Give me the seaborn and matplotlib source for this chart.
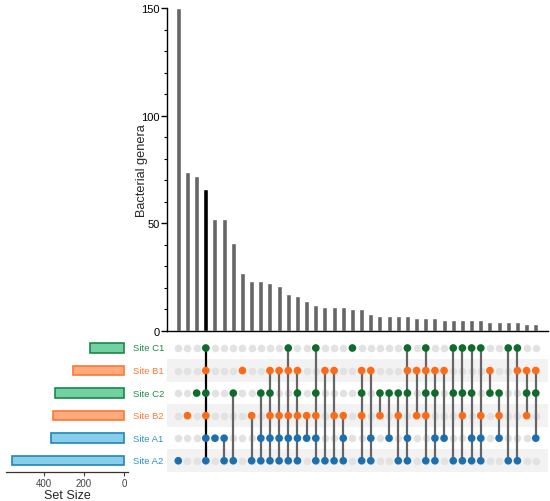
import numpy as np
import pandas as pd
import matplotlib
matplotlib.use("Agg")
import matplotlib.pyplot as plt
import seaborn as sns

# ---------------- data ----------------
set_names = ["Site C1", "Site B1", "Site C2", "Site B2", "Site A1", "Site A2"]
set_sizes = [170, 254, 345, 355, 367, 560]

intersection_counts = [150, 74, 72, 66, 52, 52, 41, 27, 23, 23,
                       22, 21, 17, 16, 14, 12, 11, 11, 11, 10,
                       10, 8, 7, 7, 7, 7, 6, 6, 6, 5,
                       5, 5, 5, 5, 4, 4, 4, 4, 3, 3]

intersection_members = [
    ["Site A2"],
    ["Site B2"],
    ["Site C2"],
    ["Site C1", "Site B1", "Site C2", "Site B2", "Site A1", "Site A2"],
    ["Site A1"],
    ["Site A1", "Site A2"],
    ["Site C2", "Site A2"],
    ["Site B1"],
    ["Site B2", "Site A2"],
    ["Site C2", "Site A1", "Site A2"],
    ["Site B1", "Site C2", "Site B2", "Site A1", "Site A2"],
    ["Site B1", "Site B2", "Site A1", "Site A2"],
    ["Site C1", "Site B1", "Site B2", "Site A1", "Site A2"],
    ["Site B1", "Site C2", "Site B2", "Site A1", "Site A2"],
    ["Site B2", "Site A1"],
    ["Site C1", "Site C2", "Site B2", "Site A1", "Site A2"],
    ["Site B1", "Site A2"],
    ["Site B1", "Site B2", "Site A2"],
    ["Site B2", "Site A1", "Site A2"],
    ["Site C1"],
    ["Site B1", "Site C2", "Site B2", "Site A2"],
    ["Site B1", "Site A1", "Site A2"],
    ["Site C2", "Site B2"],
    ["Site C2", "Site A1"],
    ["Site C2", "Site B2", "Site A2"],
    ["Site C1", "Site B1", "Site C2", "Site A1", "Site A2"],
    ["Site B1", "Site B2"],
    ["Site C1", "Site B1", "Site C2", "Site B2", "Site A2"],
    ["Site B1", "Site C2", "Site A1", "Site A2"],
    ["Site B1", "Site A1"],
    ["Site C1", "Site C2", "Site A2"],
    ["Site C1", "Site C2", "Site B2", "Site A2"],
    ["Site C1", "Site C2", "Site A1", "Site A2"],
    ["Site C1", "Site B2", "Site A1", "Site A2"],
    ["Site B1", "Site C2"],
    ["Site C2", "Site B2", "Site A1"],
    ["Site C1", "Site A2"],
    ["Site C1", "Site B1", "Site A2"],
    ["Site B1", "Site C2", "Site B2"],
    ["Site B1", "Site C2", "Site A1"],
]
highlight_index = 3

# ---------------- styles ----------------
dot_colors = {"Site C1": "#0f6b2c", "Site C2": "#0f6b2c",
              "Site B1": "#ff6a14", "Site B2": "#ff6a14",
              "Site A1": "#1b6fae", "Site A2": "#1b6fae"}
face_colors = {"Site C1": "#72d1a2", "Site C2": "#72d1a2",
               "Site B1": "#ffab7c", "Site B2": "#ffab7c",
               "Site A1": "#88cde9", "Site A2": "#88cde9"}
edge_colors = {"Site C1": "#1a8747", "Site C2": "#1a8747",
               "Site B1": "#ff7433", "Site B2": "#ff7433",
               "Site A1": "#1d88b6", "Site A2": "#1d88b6"}
label_colors = {"Site C1": "#1b8e4a", "Site C2": "#1b8e4a",
                "Site B1": "#ff7733", "Site B2": "#ff7733",
                "Site A1": "#2a92c2", "Site A2": "#2a92c2"}

sns.set_style("ticks")
plt.rcParams["font.family"] = ["Liberation Sans", "DejaVu Sans"]

W, H = 550, 502
fig = plt.figure(figsize=(W / 100, H / 100), dpi=100)

def frac(x0, y0, x1, y1):
    return [x0 / W, 1 - y1 / H, (x1 - x0) / W, (y1 - y0) / H]

n = len(intersection_counts)
xl = (-1.23, n - 1 + 1.34)

# ---------------- intersection bars ----------------
ax_bar = fig.add_axes(frac(167, 9.3, 548, 331.7))
bar_df = pd.DataFrame({"col": list(range(n)), "count": intersection_counts})
bar_pal = ["#000000" if i == highlight_index else "#666666" for i in range(n)]
sns.barplot(data=bar_df, x="col", y="count", hue="col", palette=bar_pal,
            legend=False, width=0.55, saturation=1, ax=ax_bar)
ax_bar.set_xlim(*xl)
ax_bar.set_ylim(0, 150)
ax_bar.set_yticks([0, 50, 100, 150])
ax_bar.set_yticks(np.arange(0, 151, 10), minor=True)
ax_bar.tick_params(axis="y", which="major", length=4, width=1, labelsize=8, pad=1.5, colors="black")
ax_bar.tick_params(axis="y", which="minor", length=2.5, width=0.8, colors="black")
ax_bar.set_xticks([])
ax_bar.set_xlabel("")
ax_bar.set_ylabel("Bacterial genera", fontsize=9.2)
ax_bar.yaxis.set_label_coords(-0.05, 0.5)
for s in ["top", "right"]:
    ax_bar.spines[s].set_visible(False)
for s in ["left", "bottom"]:
    ax_bar.spines[s].set_color("black")
    ax_bar.spines[s].set_linewidth(1.0)

# ---------------- matrix ----------------
ax_mat = fig.add_axes(frac(167, 337.7, 548, 473))
ax_mat.set_xlim(*xl)
ax_mat.set_ylim(len(set_names) - 0.5, -0.5)
for r in range(len(set_names)):
    if r % 2 == 1:
        ax_mat.axhspan(r - 0.5, r + 0.5, color="#f2f2f2", zorder=0, lw=0)

grid_df = pd.DataFrame([(c, r) for c in range(n) for r in range(len(set_names))],
                       columns=["col", "row"])
sns.scatterplot(data=grid_df, x="col", y="row", color="#e2e2e2", s=30,
                linewidth=0, ax=ax_mat, zorder=1, legend=False)

rows_idx = {name: i for i, name in enumerate(set_names)}
mem_rows = []
for c, mem in enumerate(intersection_members):
    for m in mem:
        mem_rows.append((c, rows_idx[m], m))
mem_df = pd.DataFrame(mem_rows, columns=["col", "row", "set"])

for c, mem in enumerate(intersection_members):
    rr = [rows_idx[m] for m in mem]
    if len(rr) > 1:
        ax_mat.vlines(c, min(rr), max(rr),
                      color="#000000" if c == highlight_index else "#666666",
                      lw=1.6, zorder=2)

sns.scatterplot(data=mem_df, x="col", y="row", hue="set", palette=dot_colors,
                s=30, linewidth=0, ax=ax_mat, zorder=3, legend=False)
ax_mat.set_axis_off()

# ---------------- set sizes ----------------
ax_set = fig.add_axes(frac(6, 337.7, 128.3, 473))
set_df = pd.DataFrame({"set": set_names, "size": set_sizes})
sns.barplot(data=set_df, y="set", x="size", hue="set", palette=face_colors,
            legend=False, orient="h", width=0.42, saturation=1, ax=ax_set)
for patch, name in zip(ax_set.patches, set_names):
    patch.set_edgecolor(edge_colors[name])
    patch.set_linewidth(1.2)
ax_set.set_xlim(590, -21)
ax_set.set_ylim(len(set_names) - 0.5, -0.5)
ax_set.set_xticks([400, 200, 0])
ax_set.tick_params(axis="x", length=3, width=0.8, labelsize=7, pad=1.5,
                   colors="#444444")
ax_set.set_yticks([])
ax_set.set_ylabel("")
ax_set.set_xlabel("Set Size", fontsize=9, labelpad=0.5)
for s in ["top", "right", "left"]:
    ax_set.spines[s].set_visible(False)
ax_set.spines["bottom"].set_color("#333333")
ax_set.spines["bottom"].set_linewidth(0.9)

# set labels (between set-size bars and matrix)
for name in set_names:
    ax_set.text(1.035, rows_idx[name], name, transform=ax_set.get_yaxis_transform(),
                ha="left", va="center", fontsize=6.8, color=label_colors[name])

fig.savefig("out.png", dpi=100)
